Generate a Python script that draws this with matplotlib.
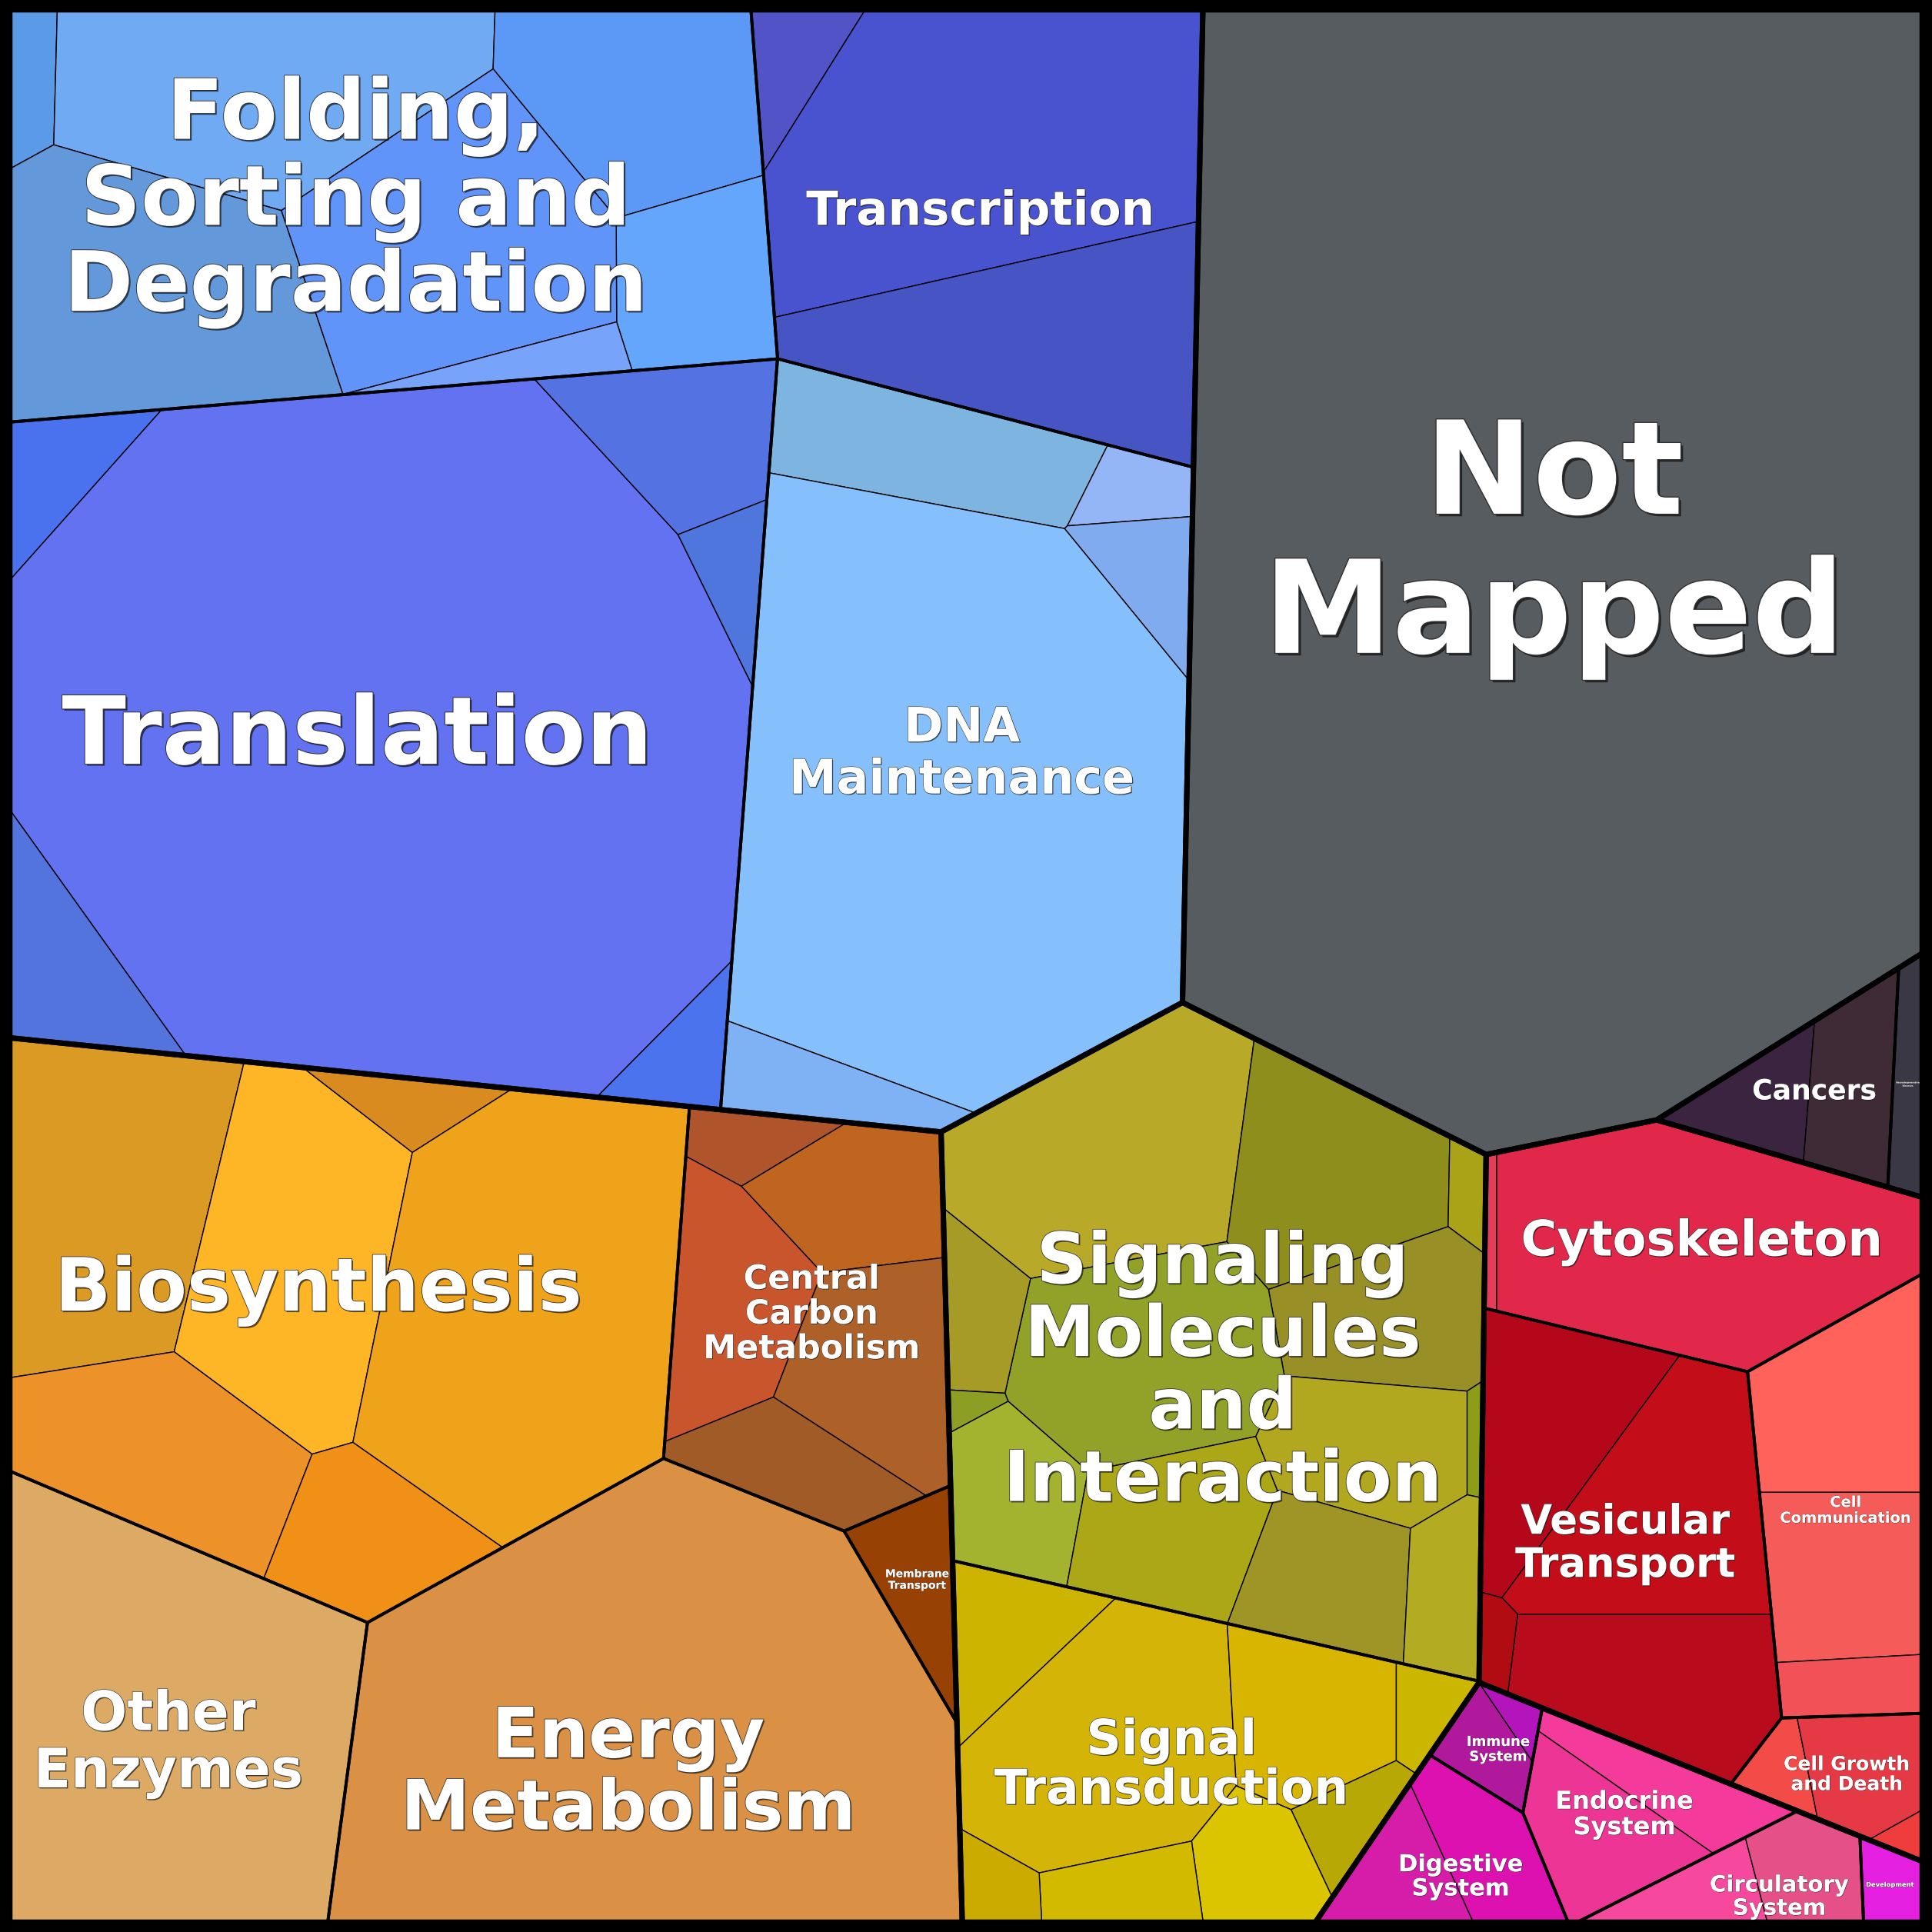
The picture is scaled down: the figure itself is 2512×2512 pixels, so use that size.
import numpy as np
import matplotlib
matplotlib.use('Agg')
import matplotlib.pyplot as plt
from matplotlib.patches import Polygon
from matplotlib import patheffects as pe

# ---------------- data ----------------
# top level groups
group_names = ['Genetic Information Processing', 'Metabolism',
               'Environmental Information Processing', 'Cellular Processes',
               'Organismal Systems', 'Human Diseases', 'Not Mapped']

# second level categories
category_names = ['Folding, Sorting and Degradation', 'Transcription', 'Translation',
                  'DNA Maintenance', 'Biosynthesis', 'Other Enzymes', 'Energy Metabolism',
                  'Central Carbon Metabolism', 'Membrane Transport',
                  'Signaling Molecules and Interaction', 'Signal Transduction',
                  'Cytoskeleton', 'Vesicular Transport', 'Cell Communication',
                  'Cell Growth and Death', 'Immune System', 'Digestive System',
                  'Endocrine System', 'Circulatory System', 'Development',
                  'Cancers', 'Neurodegenerative Diseases', 'Not Mapped']
category_group = [0, 0, 0, 0, 1, 1, 1, 1, 1, 2, 2, 3, 3, 3, 3, 4, 4, 4, 4, 4, 5, 5, 6]
category_labels = ['Folding,\nSorting and\nDegradation', 'Transcription', 'Translation',
                   'DNA\nMaintenance', 'Biosynthesis', 'Other\nEnzymes', 'Energy\nMetabolism',
                   'Central\nCarbon\nMetabolism', 'Membrane\nTransport',
                   'Signaling\nMolecules\nand\nInteraction', 'Signal\nTransduction',
                   'Cytoskeleton', 'Vesicular\nTransport', 'Cell\nCommunication',
                   'Cell Growth\nand Death', 'Immune\nSystem', 'Digestive\nSystem',
                   'Endocrine\nSystem', 'Circulatory\nSystem', 'Development',
                   'Cancers', 'Neurodegenerative\nDiseases', 'Not\nMapped']

# protein mass of each pathway (one entry per cell), per category
pathway_values = [
    [4.4, 43.1, 28.2, 17.0, 45.6, 4.8, 46.1],
    [6.1, 69.0, 39.7],
    [7.9, 282.5, 17.4, 5.3, 13.2, 6.1],
    [21.6, 4.6, 7.0, 154.6, 9.1],
    [41.3, 40.3, 5.1, 75.9, 28.1, 15.8],
    [84.4],
    [151.3],
    [4.8, 14.5, 18.1, 19.2, 11.3],
    [8.4],
    [38.7, 24.2, 2.3, 17.7, 31.5, 7.3, 1.0, 12.5, 18.2, 16.5, 1.1, 14.4, 7.9],
    [10.0, 36.4, 15.8, 3.6, 4.9, 9.1, 6.8, 3.7],
    [1.2, 51.4],
    [20.4, 29.1, 22.3, 2.0],
    [19.0, 16.9, 5.4],
    [3.0, 8.4, 0.9],
    [4.3, 1.2],
    [7.2, 9.2],
    [7.9, 11.8],
    [5.3, 6.9],
    [2.9],
    [7.0, 9.9],
    [4.4],
    [512.7],
]

pathway_colors = [
    ['#5b9ae6', '#6faaf3', '#5c99f7', '#63a6fc', '#6194f9', '#78a3fb', '#6398da'],
    ['#5153c6', '#4a53cf', '#4654c4'],
    ['#4a72ef', '#6372f1', '#5572e2', '#4e76dc', '#5373dd', '#4a73ed'],
    ['#7db5e0', '#94b6f6', '#81abef', '#86c0fc', '#7fb2f5'],
    ['#db9a23', '#feb627', '#d98b1f', '#efa31b', '#ec9228', '#f09016'],
    ['#ddaa65'],
    ['#da9145'],
    ['#b0552b', '#c06520', '#c8552c', '#ad6028', '#a05b26'],
    ['#974105'],
    ['#b8aa28', '#8e8e1c', '#aaa318', '#988f26', '#92a128', '#a69b26', '#8d9e25',
     '#a3b22f', '#aca717', '#b2a820', '#8c9e17', '#9f9527', '#b3ab22'],
    ['#ccb400', '#d4b406', '#d8b500', '#cbb700', '#b7a806', '#dbc500', '#d2ba00', '#ccab00'],
    ['#e43c5a', '#e1284a'],
    ['#b5071a', '#c30d18', '#b80b1c', '#b00c12'],
    ['#fe625a', '#f55b58', '#f35158'],
    ['#f34b48', '#e53a46', '#ef3d3d'],
    ['#b1199c', '#b414bc'],
    ['#d51da9', '#dc11b0'],
    ['#f43a9b', '#ec3595'],
    ['#f6499e', '#e65088'],
    ['#e620e1'],
    ['#3a2440', '#3f2b35'],
    ['#3b3845'],
    ['#575c61'],
]

# ---------------- layout hints (sites of the voronoi treemap) ----------------
SIZE = 1568
MARGIN = 8

group_seeds = [(483, 451), (405, 1223), (890, 1210), (1414, 1217),
               (1303, 1492), (1515, 870), (1262, 467)]
category_seeds = [(300, 165), (915, 118), (335, 590), (783, 624),
                  (265, 1060), (135, 1367), (459, 1410), (590, 1084), (675, 1283),
                  (985, 1095), (906, 1440),
                  (1385, 1000), (1330, 1228), (1503, 1211), (1508, 1365),
                  (1210, 1410), (1156, 1497), (1318, 1430), (1372, 1537), (1537, 1530),
                  (1470, 878), (1550, 882), (1262, 467)]
pathway_seeds = [
    [(24, 65), (215, 70), (515, 80), (560, 235), (326, 236), (344, 304), (150, 295)],
    [(644, 52), (805, 153), (836, 290)],
    [(52, 379), (300, 600), (560, 360), (597, 454), (50, 779), (556, 854)],
    [(810, 360), (926, 418), (931, 485), (760, 625), (666, 878)],
    [(90, 985), (235, 1020), (328, 900), (430, 1060), (120, 1175), (300, 1245)],
    [(135, 1420)],
    [(520, 1410)],
    [(655, 930), (678, 968), (590, 1050), (693, 1090), (640, 1172)],
    [(745, 1287)],
    [(900, 935), (1085, 960), (1193, 962), (1120, 1060), (930, 1095), (795, 1065),
     (790, 1150), (825, 1215), (960, 1240), (1110, 1180), (1198, 1180), (1080, 1285),
     (1175, 1290)],
    [(817, 1333), (890, 1410), (1070, 1400), (1155, 1400), (1105, 1475), (1020, 1515),
     (915, 1530), (820, 1535)],
    [(1216, 995), (1390, 995)],
    [(1265, 1160), (1340, 1215), (1340, 1345), (1220, 1330)],
    [(1500, 1135), (1500, 1275), (1505, 1365)],
    [(1451, 1443), (1515, 1430), (1548, 1489)],
    [(1205, 1420), (1236, 1399)],
    [(1147, 1521), (1215, 1490)],
    [(1340, 1440), (1305, 1490)],
    [(1378, 1539), (1470, 1515)],
    [(1538, 1530)],
    [(1429, 884), (1505, 890)],
    [(1550, 862)],
    [(1262, 441)],
]
label_sizes = [78, 44, 88, 44.6, 69, 51, 65, 31, 10, 66, 45.5, 46, 38, 14, 18,
               13, 22, 23, 21, 6, 26, 2, 121]
label_spacing = [1.07, 1.1, 1.1, 1.16, 1.1, 1.1, 1.07, 1.1, 1.1, 1.06, 1.1, 1.1, 1.1, 1.1, 1.1,
                 1.1, 1.1, 1.1, 1.1, 1.1, 1.1, 1.1, 1.14]
label_shift = [(-17, 0), (-9, 2), (-28, 8), (5, -3), (-13, -14), (0, 13), (-19, 36),
               (0, 0), (0, 0), (1, 22), (2, 6), (10, 0), (0, 0), (0, 0), (0, 0),
               (4, 5), (10, 13), (-1, 0), (16, 13), (0, 0), (0, 0), (0, 0), (0, 0)]


# ---------------- power diagram helpers ----------------
def poly_area(p):
    if len(p) < 3:
        return 0.0
    p = np.asarray(p)
    x, y = p[:, 0], p[:, 1]
    return 0.5 * abs(np.dot(x, np.roll(y, -1)) - np.dot(np.roll(x, -1), y))


def poly_centroid(p):
    p = np.asarray(p)
    x, y = p[:, 0], p[:, 1]
    xn, yn = np.roll(x, -1), np.roll(y, -1)
    cr = x * yn - xn * y
    a = cr.sum() / 2
    return np.array([((x + xn) * cr).sum() / (6 * a), ((y + yn) * cr).sum() / (6 * a)])


def contains(poly, s, pad=2.0):
    p = np.asarray(poly)
    sgn = []
    for k in range(len(p)):
        a, b = p[k], p[(k + 1) % len(p)]
        e = b - a
        cr = e[0] * (s[1] - a[1]) - e[1] * (s[0] - a[0])
        sgn.append(cr / (np.linalg.norm(e) + 1e-12))
    sgn = np.array(sgn)
    return np.all(sgn > pad) or np.all(sgn < -pad)


def clip(pts, labs, a, b, j):
    out_p, out_l = [], []
    m = len(pts)
    for k in range(m):
        P, Q = pts[k], pts[(k + 1) % m]
        fp, fq = a @ P - b, a @ Q - b
        if fp <= 0:
            out_p.append(P)
            out_l.append(labs[k])
            if fq > 0:
                out_p.append(P + fp / (fp - fq) * (Q - P))
                out_l.append(j)
        elif fq <= 0:
            out_p.append(P + fp / (fp - fq) * (Q - P))
            out_l.append(labs[k])
    return out_p, out_l


def power_cells(container, sites, w):
    cells = []
    n = len(sites)
    for i in range(n):
        pts = list(container)
        labs = [-1] * len(pts)
        for j in range(n):
            if j == i or len(pts) == 0:
                continue
            a = 2 * (sites[j] - sites[i])
            b = sites[j] @ sites[j] - sites[i] @ sites[i] - w[j] + w[i]
            pts, labs = clip(pts, labs, a, b, j)
        cells.append((pts, labs))
    return cells


def layout(container, seeds, values):
    container = [np.asarray(p, float) for p in container]
    n = len(values)
    if n == 1:
        return [np.array(container)]
    total = poly_area(container)
    target = np.asarray(values, float) / np.sum(values) * total
    c0 = poly_centroid(container)
    sites = []
    for s in seeds:
        s = np.asarray(s, float)
        for _ in range(60):
            if contains(container, s):
                break
            s = c0 + 0.85 * (s - c0)
        sites.append(s)
    w = np.zeros(n)

    def areas(cells):
        return np.array([poly_area(p) for p, _ in cells])

    cells = power_cells(container, sites, w)
    A = areas(cells)
    eps = 0.5 * min(A.min(), target.min())
    for _ in range(150):
        err = target - A
        if np.abs(err).max() < 1e-5 * total:
            break
        H = np.zeros((n, n))
        for i, (pts, labs) in enumerate(cells):
            m = len(pts)
            for k in range(m):
                j = labs[k]
                if j < 0:
                    continue
                L = np.linalg.norm(pts[(k + 1) % m] - pts[k])
                c = L / (2 * np.linalg.norm(sites[j] - sites[i]))
                H[i, i] += c
                H[i, j] -= c
        dw = np.linalg.lstsq(H, err, rcond=None)[0]
        t = 1.0
        while t > 1e-6:
            w_try = w + t * dw
            c_try = power_cells(container, sites, w_try)
            A_try = areas(c_try)
            if A_try.min() >= eps and np.linalg.norm(target - A_try) <= (1 - t / 2) * np.linalg.norm(err):
                break
            t /= 2
        w, cells, A = w_try, c_try, A_try
    return [np.array(p) for p, _ in cells]


# ---------------- nested treemap ----------------
square = [(MARGIN, MARGIN), (SIZE - MARGIN, MARGIN), (SIZE - MARGIN, SIZE - MARGIN), (MARGIN, SIZE - MARGIN)]
ncat = len(category_names)
cat_totals = [sum(v) for v in pathway_values]
group_values = [sum(cat_totals[k] for k in range(ncat) if category_group[k] == g)
                for g in range(len(group_names))]
group_polys = layout(square, group_seeds, group_values)

cat_polys = [None] * ncat
for g in range(len(group_names)):
    idx = [k for k in range(ncat) if category_group[k] == g]
    polys = layout(group_polys[g], [category_seeds[k] for k in idx], [cat_totals[k] for k in idx])
    for k, p in zip(idx, polys):
        cat_polys[k] = p

path_polys = [layout(cat_polys[k], pathway_seeds[k], pathway_values[k]) for k in range(ncat)]

# ---------------- drawing ----------------
fig = plt.figure(figsize=(25.12, 25.12), dpi=100, facecolor='black')
ax = fig.add_axes([0, 0, 1, 1])
ax.set_xlim(0, SIZE)
ax.set_ylim(SIZE, 0)
ax.axis('off')
ax.set_facecolor('black')

for k in range(ncat):
    for poly, col in zip(path_polys[k], pathway_colors[k]):
        if len(poly) < 3:
            continue
        ax.add_patch(Polygon(poly, closed=True, facecolor=col, edgecolor='black',
                             linewidth=1.0, joinstyle='round'))
for poly in cat_polys:
    ax.add_patch(Polygon(poly, closed=True, fill=False, edgecolor='black',
                         linewidth=2.8, joinstyle='round'))
for poly in group_polys:
    ax.add_patch(Polygon(poly, closed=True, fill=False, edgecolor='black',
                         linewidth=5.0, joinstyle='round'))

for k in range(ncat):
    cx, cy = poly_centroid(cat_polys[k])
    cx += label_shift[k][0]
    cy += label_shift[k][1]
    fs = label_sizes[k]
    off = max(0.2, fs / 50)
    effects = [pe.SimplePatchShadow(offset=(off, -off), shadow_rgbFace='black', alpha=0.6),
               pe.Stroke(linewidth=max(0.3, fs / 60), foreground='#303030'),
               pe.Normal()]
    ax.text(cx, cy, category_labels[k], ha='center', va='center', fontsize=fs,
            color='white', fontweight='bold', family='DejaVu Sans',
            linespacing=label_spacing[k], path_effects=effects)

fig.savefig('out.png', dpi=100, facecolor='black')
